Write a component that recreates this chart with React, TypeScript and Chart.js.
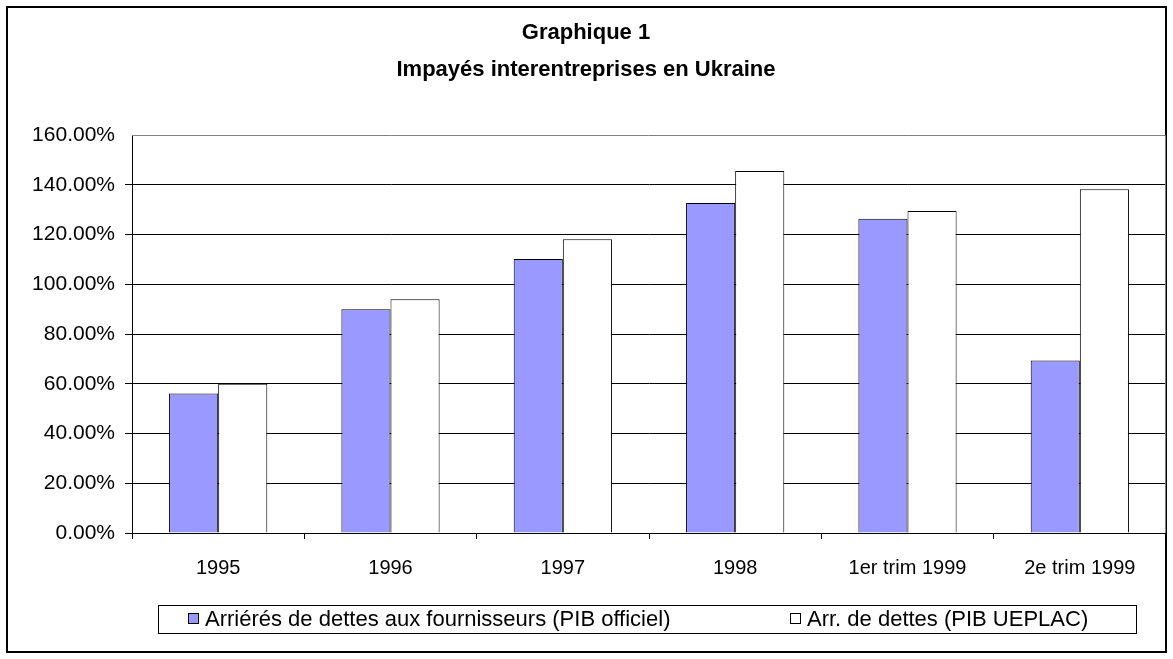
import React, { useEffect, useRef } from "react";
import { Chart, registerables } from "chart.js";

Chart.register(...registerables);

const categories = ["1995", "1996", "1997", "1998", "1er trim 1999", "2e trim 1999"];
const seriesOfficiel = [56.1, 89.9, 110.2, 132.7, 126.3, 69.3];
const seriesUeplac = [60.0, 94.0, 118.1, 145.5, 129.4, 138.2];
const seriesLabels = [
  "Arriérés de dettes aux fournisseurs (PIB officiel)",
  "Arr. de dettes (PIB UEPLAC)",
];
const titleLines = ["Graphique 1", "Impayés interentreprises en Ukraine"];
const yTickMin = 0;
const yTickMax = 160;
const yTickStep = 20;

const FONT = "'Liberation Sans', Arial, sans-serif";

const framePlugin = {
  id: "frame",
  beforeDraw(chart: any) {
    const ctx = chart.ctx;
    ctx.save();
    ctx.fillStyle = "#ffffff";
    ctx.fillRect(0, 0, chart.width, chart.height);
    ctx.strokeStyle = "#000000";
    ctx.lineWidth = 2;
    ctx.strokeRect(7, 7, 1159, 645);
    ctx.restore();
  },
  afterDraw(chart: any) {
    const ctx = chart.ctx;
    const a = chart.chartArea;
    ctx.save();
    // plot border right/top (grey)
    ctx.strokeStyle = "#808080";
    ctx.lineWidth = 1;
    ctx.beginPath();
    ctx.moveTo(a.left, a.top + 0.5);
    ctx.lineTo(a.right - 0.5, a.top + 0.5);
    ctx.lineTo(a.right - 0.5, a.bottom);
    ctx.stroke();

    // title
    ctx.fillStyle = "#000000";
    ctx.textAlign = "center";
    ctx.textBaseline = "middle";
    ctx.font = `bold 22px ${FONT}`;
    ctx.fillText(titleLines[0], 586, 33);
    ctx.fillText(titleLines[1], 586, 70);

    // legend
    const lx = 158, ly = 605, lw = 978, lh = 28;
    ctx.strokeStyle = "#000000";
    ctx.lineWidth = 1;
    ctx.strokeRect(lx + 0.5, ly + 0.5, lw, lh);
    ctx.font = `22px ${FONT}`;
    ctx.textAlign = "left";
    const ds = chart.data.datasets;
    const itemX = [188, 790];
    ds.forEach((d: any, i: number) => {
      const mx = itemX[i];
      const my = ly + lh / 2;
      ctx.fillStyle = d.backgroundColor;
      ctx.fillRect(mx, my - 6, 11, 11);
      ctx.strokeStyle = "#000000";
      ctx.strokeRect(mx + 0.5, my - 5.5, 10, 10);
      ctx.fillStyle = "#000000";
      ctx.fillText(d.label, mx + 17, my + 1);
    });
    ctx.restore();
  },
};

export default function App() {
  const ref = useRef<HTMLCanvasElement | null>(null);
  useEffect(() => {
    document.body.style.margin = "0";
    const canvas = ref.current;
    if (!canvas) return;
    const chart = new Chart(canvas, {
      type: "bar",
      data: {
        labels: categories,
        datasets: [
          {
            label: seriesLabels[0],
            data: seriesOfficiel,
            backgroundColor: "#9999FF",
            borderColor: "#000000",
            borderWidth: 1,
            categoryPercentage: 0.57,
            barPercentage: 1.0,
          },
          {
            label: seriesLabels[1],
            data: seriesUeplac,
            backgroundColor: "#FFFFFF",
            borderColor: "#000000",
            borderWidth: 1,
            categoryPercentage: 0.57,
            barPercentage: 1.0,
          },
        ],
      },
      options: {
        animation: false,
        responsive: false,
        devicePixelRatio: 1,
        layout: { padding: { left: 0, right: 7, top: 135, bottom: 56 } },
        plugins: {
          legend: { display: false },
          title: { display: false },
          tooltip: { enabled: false },
        },
        scales: {
          x: {
            grid: {
              offset: true,
              drawOnChartArea: false,
              drawTicks: true,
              tickLength: 6,
              color: "#000000",
            },
            border: { display: true, color: "#000000", width: 1 },
            ticks: {
              color: "#000000",
              font: { family: FONT, size: 20 },
              padding: 17,
              maxRotation: 0,
              autoSkip: false,
            },
            afterFit(scale: any) {
              scale.height = 659 - 56 - 533;
            },
          },
          y: {
            min: yTickMin,
            max: yTickMax,
            grid: {
              color: (c: any) => (c.tick && c.tick.value === yTickMax ? "rgba(0,0,0,0)" : "#000000"),
              drawTicks: true,
              tickLength: 7,
              lineWidth: 1,
            },
            border: { display: true, color: "#000000", width: 1 },
            ticks: {
              stepSize: yTickStep,
              color: "#000000",
              font: { family: FONT, size: 21 },
              padding: 10,
              callback: (v: any) => Number(v).toFixed(2) + "%",
            },
            afterFit(scale: any) {
              scale.width = 132;
            },
          },
        },
      },
      plugins: [framePlugin],
    });
    return () => chart.destroy();
  }, []);
  return (
    <div style={{ width: 1173, height: 659 }}>
      <canvas ref={ref} width={1173} height={659} style={{ width: 1173, height: 659, display: "block" }} />
    </div>
  );
}
